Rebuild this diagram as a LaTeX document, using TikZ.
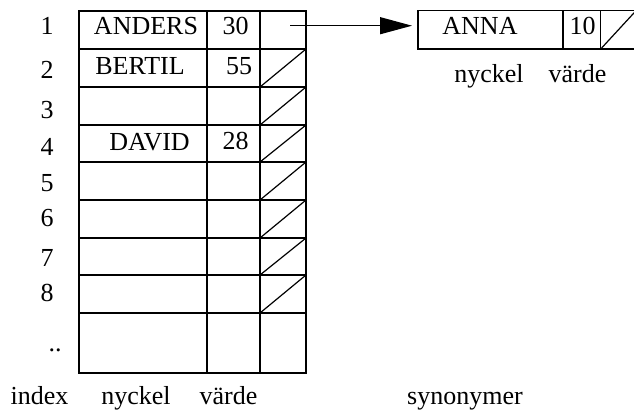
\documentclass[tikz,border=0pt]{standalone}
\usepackage{fontspec}
\setmainfont{Liberation Serif}
\usetikzlibrary{arrows.meta}
\begin{document}
\begin{tikzpicture}[x=1pt,y=-1pt, line width=1.2pt,
  txt/.style={anchor=base, inner sep=0pt, font=\fontsize{26}{30}\selectfont},
  cell/.style={draw, inner sep=0pt, outer sep=0pt, anchor=north west, minimum height=38.3pt}]
\useasboundingbox (0,0) rectangle (634,410);
% main table
\draw (79,11) rectangle (306,373);
\foreach \y in {49,87,125,162,200,238,275,313} \draw (79,\y) -- (306,\y);
\draw (207,11) -- (207,373);
\draw (260,11) -- (260,373);
\foreach \a/\b in {49/87,87/125,125/162,162/200,200/238,238/275,275/313}
  \draw (260,\b) -- (306,\a);
% synonym box
\node[cell, minimum width=145pt] (key) at (418,10.7) {};
\node[cell, minimum width=37.7pt] (val) at (563,10.7) {};
\node[cell, minimum width=35.3pt] (nxt) at (600.7,10.7) {};
\draw (nxt.south west) -- (nxt.north east);
% pointer
\coordinate (p1) at (290,25.7);
\draw[-{Triangle[length=32pt,width=17pt]}, shorten >=6pt] (p1) -- (p1 -| key.west);
% index labels
\node[txt] (i1) at (47,34) {1};
\node[txt] (i2) at (47,78) {2};
\node[txt] (i3) at (47,118) {3};
\node[txt] (i4) at (47,155) {4};
\node[txt] (i5) at (47,191.7) {5};
\node[txt] (i6) at (47,226.7) {6};
\node[txt] (i7) at (47,266.7) {7};
\node[txt] (i8) at (47,301.7) {8};
\node[txt] (idots) at (55,351.7) {..};
% entries
\node[txt] (k1) at (146,34) {ANDERS};
\node[txt] (v1) at (235.5,34) {30};
\node[txt] (k2) at (140,74) {BERTIL};
\node[txt] (v2) at (239,74) {55};
\node[txt] (k4) at (149.5,150) {DAVID};
\node[txt] (v4) at (235.5,149) {28};
\node[txt] (ka) at (480,34) {ANNA};
\node[txt] (va) at (582.5,34) {10};
\node[txt] (lk) at (489,82) {nyckel};
\node[txt] (lv) at (577.5,82) {värde};
% bottom labels
\node[txt] (lindex) at (39.5,404) {index};
\node[txt] (lnyckel) at (136,404) {nyckel};
\node[txt] (lvarde) at (228.5,404) {värde};
\node[txt] (lsyn) at (465,404) {synonymer};
\end{tikzpicture}
\end{document}
